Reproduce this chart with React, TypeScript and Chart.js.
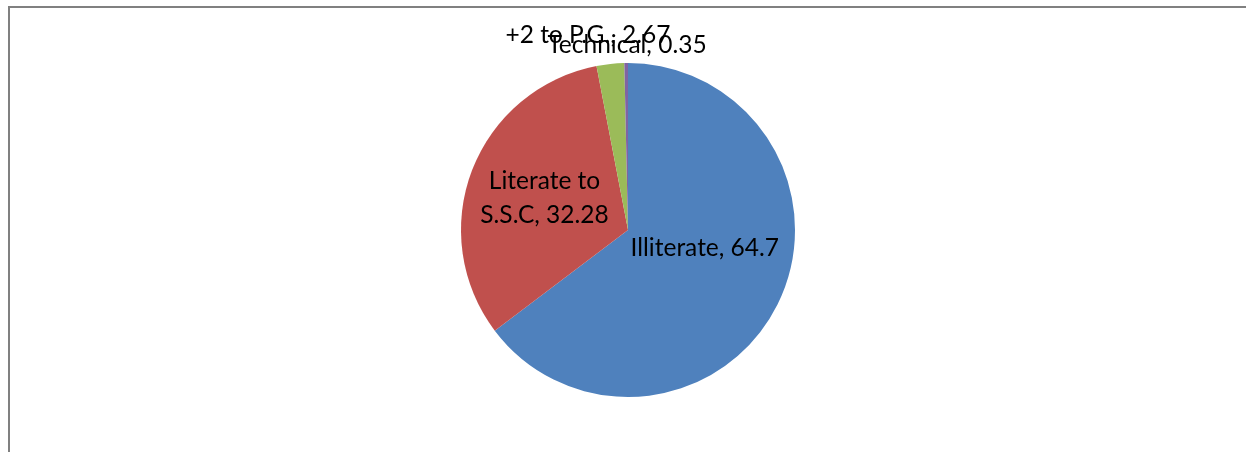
import React, { useEffect, useRef } from "react";
import { Chart, registerables } from "chart.js";

Chart.register(...registerables);

const categories = ["Illiterate", "Literate to S.S.C", "+2 to P.G.", "Technical"];
const values = [64.7, 32.28, 2.67, 0.35];
const colors = ["#4F81BD", "#C0504D", "#9BBB59", "#8064A2"];
const labelLines = [["Illiterate, 64.7"], ["Literate to", "S.S.C, 32.28"], ["+2 to P.G., 2.67"], ["Technical, 0.35"]];

// label anchor positions, in units of the pie radius, relative to the pie centre
const labelAnchors = [
  [0.46, 0.11],
  [-0.5, -0.19],
  [-0.24, -1.17],
  [-0.006, -1.11],
];

const FONT = "Lato, 'Noto Sans', sans-serif";

const labelPlugin = {
  id: "pieLabels",
  afterDatasetsDraw(chart: any) {
    const meta = chart.getDatasetMeta(0);
    const arc = meta.data[0];
    if (!arc) return;
    const { x, y, outerRadius } = arc.getProps(["x", "y", "outerRadius"], true);
    const ctx = chart.ctx;
    ctx.save();
    ctx.font = `24.5px ${FONT}`;
    ctx.fillStyle = "#000";
    ctx.textAlign = "center";
    ctx.textBaseline = "middle";
    const lh = 34;
    labelLines.forEach((lines, i) => {
      const [ax, ay] = labelAnchors[i];
      const cx = x + ax * outerRadius;
      const cy = y + ay * outerRadius;
      const start = cy - ((lines.length - 1) * lh) / 2;
      lines.forEach((t, j) => ctx.fillText(t, cx, start + j * lh));
    });
    ctx.restore();
  },
};

export default function App() {
  const ref = useRef<HTMLCanvasElement>(null);
  useEffect(() => {
    document.body.style.overflow = "hidden";
    const chart = new Chart(ref.current!, {
      type: "pie",
      data: {
        labels: categories,
        datasets: [
          {
            data: values,
            backgroundColor: colors,
            borderWidth: 0,
          },
        ],
      },
      options: {
        animation: false,
        responsive: false,
        maintainAspectRatio: false,
        layout: { padding: { left: 10, right: 0, top: 63, bottom: 55 } },
        plugins: {
          legend: { display: false },
          tooltip: { enabled: false },
        },
      },
      plugins: [labelPlugin],
    });
    return () => chart.destroy();
  }, []);
  return (
    <div>
      <div
        style={{
          position: "absolute",
          left: 8,
          top: 6,
          width: 1238,
          height: 446,
          boxSizing: "border-box",
          borderTop: "2px solid #808080",
          borderLeft: "2px solid #808080",
          background: "#fff",
        }}
      />
      <canvas
        ref={ref}
        width={1246}
        height={452}
        style={{ position: "absolute", left: 0, top: 0, width: 1246, height: 452 }}
      />
    </div>
  );
}
